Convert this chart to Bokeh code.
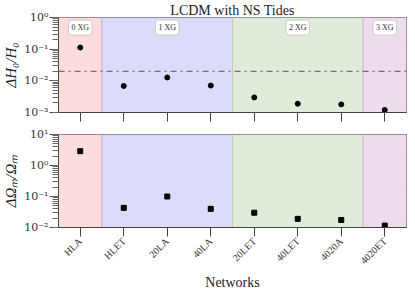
import math
from bokeh.plotting import figure
from bokeh.layouts import column
from bokeh.models import (Range1d, FixedTicker, LogTicker, CustomJSTickFormatter,
                          BoxAnnotation, Span, Label)
from bokeh.embed import file_html
from bokeh.resources import INLINE

networks = ["HLA", "HLET", "20LA", "40LA", "20LET", "40LET", "4020A", "4020ET"]
dH0 = [0.113, 0.0069, 0.0128, 0.0071, 0.0030, 0.0019, 0.0018, 0.0012]
dOm = [2.9, 0.043, 0.10, 0.040, 0.030, 0.019, 0.0175, 0.0115]
h0_threshold = 0.02
groups = ["0 XG", "1 XG", "2 XG", "3 XG"]
group_sizes = [1, 3, 3, 1]
group_colors = ["#fcdcdc", "#dcdcfa", "#dfecdc", "#ecdcec"]
group_edges = ["#e0a8a8", "#b8b8e8", "#b8d0b8", "#d0b8d0"]

xs = list(range(len(networks)))
FONT = "Liberation Serif"
TICKFONT = "DejaVu Serif"

fmt = CustomJSTickFormatter(code="""
const e = Math.round(Math.log10(tick));
const sup = {'-':'\u207b','0':'\u2070','1':'\u00b9','2':'\u00b2','3':'\u00b3','4':'\u2074','5':'\u2075','6':'\u2076','7':'\u2077','8':'\u2078','9':'\u2079'};
return '10' + String(e).split('').map(c => sup[c]).join('');
""")


def make_fig(ylo, yhi, fh, bt, bb, title=None):
    kw = dict(output_backend="svg", toolbar_location=None, y_axis_type="log",
              frame_width=348, frame_height=fh,
              x_range=Range1d(-0.5, len(networks) - 0.5), y_range=Range1d(ylo, yhi),
              min_border_left=49, min_border_right=3, min_border_top=bt, min_border_bottom=bb)
    if title:
        kw["title"] = title
    p = figure(**kw)
    p.outline_line_color = "#444444"
    p.outline_line_width = 1
    p.xgrid.grid_line_color = None
    p.ygrid.grid_line_color = "#c0c0c0"
    p.ygrid.grid_line_alpha = 0.8
    p.ygrid.minor_grid_line_color = "#c0c0c0"
    p.ygrid.minor_grid_line_alpha = 0.7
    p.yaxis.ticker = LogTicker(num_minor_ticks=10)
    p.yaxis.formatter = fmt
    p.yaxis.major_label_text_font = TICKFONT
    p.yaxis.major_label_text_font_size = "11px"
    p.yaxis.major_label_text_color = "#333333"
    p.yaxis.major_tick_out = 9
    p.yaxis.major_tick_in = 0
    p.yaxis.minor_tick_out = 6
    p.yaxis.minor_tick_in = 0
    p.yaxis.axis_line_color = "#444444"
    p.yaxis.major_tick_line_color = "#444444"
    p.yaxis.minor_tick_line_color = "#666666"
    p.yaxis.axis_label_text_font = FONT
    p.yaxis.axis_label_text_font_size = "15px"
    p.yaxis.axis_label_text_font_style = "italic"
    p.yaxis.axis_label_text_color = "#222222"
    p.yaxis.axis_label_standoff = 2
    p.yaxis.major_label_standoff = 1
    p.xaxis.ticker = FixedTicker(ticks=xs)
    p.xaxis.major_tick_out = 9
    p.xaxis.major_tick_in = 0
    p.xaxis.minor_tick_out = 0
    p.xaxis.axis_line_color = "#444444"
    p.xaxis.major_tick_line_color = "#444444"
    start = -0.5
    for g, n, c, ec in zip(groups, group_sizes, group_colors, group_edges):
        p.add_layout(BoxAnnotation(left=start, right=start + n, fill_color=c, fill_alpha=1.0,
                                   line_color=ec, line_alpha=0.9, line_width=1, level="underlay"))
        start += n
    return p


p1 = make_fig(1e-3, 1e0, 95, 11, 11, title="LCDM with NS Tides")
p1.title.align = "center"
p1.title.text_font = FONT
p1.title.text_font_size = "14px"
p1.title.text_font_style = "normal"
p1.title.text_color = "#222222"
p1.title.standoff = 0
p1.xaxis.major_label_overrides = {i: "" for i in xs}
p1.xaxis.major_label_standoff = 0
p1.yaxis.axis_label = "\u0394H\u2080/H\u2080"
p1.add_layout(Span(location=h0_threshold, dimension="width", line_color="#555555",
                   line_dash="dashdot", line_width=1))
p1.scatter(xs, dH0, marker="circle", size=5, color="black")
start = -0.5
for g, n in zip(groups, group_sizes):
    p1.add_layout(Label(x=start + n / 2, y=0.48, text=g, text_align="center",
                        text_baseline="middle", text_font=FONT, text_font_size="8px",
                        text_color="#333333", background_fill_color="white",
                        background_fill_alpha=0.95, border_line_color="#cccccc",
                        border_line_width=1, padding=3, border_radius=3))
    start += n

p2 = make_fig(1e-2, 1e1, 93, 11, 60)
p2.yaxis.axis_label = "\u0394\u03a9\u2098/\u03a9\u2098"
p2.xaxis.major_label_overrides = {i: n for i, n in zip(xs, networks)}
p2.xaxis.major_label_orientation = math.pi / 4
p2.xaxis.major_label_text_font = FONT
p2.xaxis.major_label_text_font_size = "10px"
p2.xaxis.major_label_text_color = "#333333"
p2.xaxis.major_label_standoff = 3
p2.xaxis.axis_label = "Networks"
p2.xaxis.axis_label_text_font = FONT
p2.xaxis.axis_label_text_font_size = "14px"
p2.xaxis.axis_label_text_font_style = "normal"
p2.xaxis.axis_label_text_color = "#222222"
p2.xaxis.axis_label_standoff = 2
p2.scatter(xs, dOm, marker="square", size=5, color="black")

layout = column(p1, p2, spacing=0)
open("out.html", "w").write(file_html(layout, INLINE))
